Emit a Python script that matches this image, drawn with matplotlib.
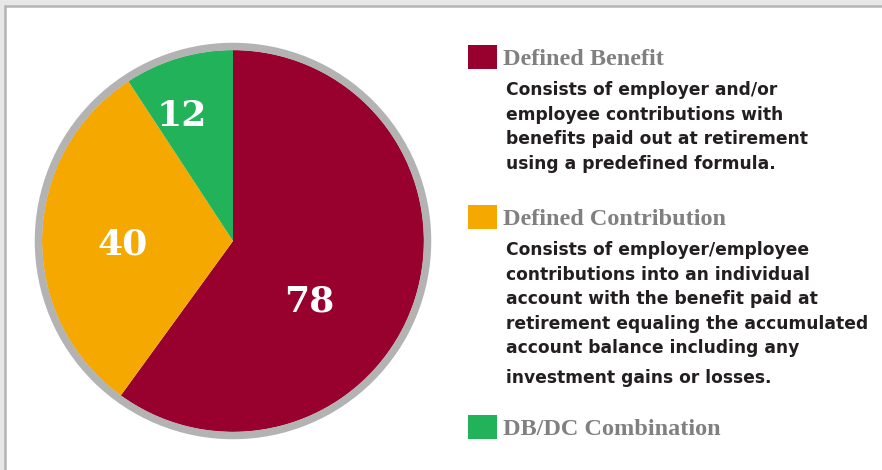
import numpy as np
import matplotlib.pyplot as plt
from matplotlib.patches import Rectangle, Circle

# plan counts
plans = ["Defined Benefit", "Defined Contribution", "DB/DC Combination"]
counts = [78, 40, 12]
colors = ["#98002e", "#f5a800", "#22b35a"]
descriptions = [
    ["Consists of employer and/or",
     "employee contributions with",
     "benefits paid out at retirement",
     "using a predefined formula."],
    ["Consists of employer/employee",
     "contributions into an individual",
     "account with the benefit paid at",
     "retirement equaling the accumulated",
     "account balance including any",
     "investment gains or losses."],
    [],
]

W, H = 882, 470
fig = plt.figure(figsize=(W / 100, H / 100), dpi=100)
fig.patch.set_facecolor("#e7e7e7")


def fx(px):
    return px / W


def fy(py):
    return 1 - py / H


# white panel with grey border (runs off the right and bottom edge)
bg = fig.add_axes([0, 0, 1, 1])
bg.set_xlim(0, W)
bg.set_ylim(H, 0)
bg.axis("off")
bg.add_patch(Rectangle((5, 6), W + 20, H + 20, facecolor="white",
                       edgecolor="#b4b4b4", linewidth=1.8))

# pie axes: centre (233, 241), radius 191 px
R = 191
cx, cy = 233, 241
span = 1.1
side = 2 * span * R
ax = fig.add_axes([fx(cx - side / 2), fy(cy + side / 2), side / W, side / H])
wedges, _ = ax.pie(counts, colors=colors, startangle=90, counterclock=False,
                   radius=1.0, wedgeprops=dict(linewidth=0))
ax.set_xlim(-span, span)
ax.set_ylim(-span, span)
ax.add_patch(Circle((0, 0), 1.0 + 3.5 / R, fill=False, edgecolor="#b3b3b3",
                    linewidth=7.5 * 0.72, zorder=5))

# value labels
label_r = [0.50, 0.58, 0.725]
label_shift = [-19, 1.5, 5]
for w, val, r, sh in zip(wedges, counts, label_r, label_shift):
    ang = np.deg2rad((w.theta1 + w.theta2) / 2 + sh)
    ax.text(r * np.cos(ang), r * np.sin(ang), str(val), color="white",
            fontsize=26, fontweight="bold", family="DejaVu Serif",
            ha="center", va="center_baseline", zorder=6)

# legend with descriptions
title_y = [65, 225, 435]
box_y = [45, 205, 415]
line_h = 24.6
for name, col, desc, ty, by in zip(plans, colors, descriptions, title_y, box_y):
    bg.add_patch(Rectangle((468, by), 29, 24, facecolor=col, edgecolor="none"))
    bg.text(503, ty, name, color="#808080", fontsize=17.5, fontweight="bold",
            family="Liberation Serif", va="baseline", ha="left")
    for i, line in enumerate(desc):
        extra = 5 if i == 5 else 0
        bg.text(506, ty + 30 + i * line_h + extra, line, color="#231f20",
                fontsize=12.3, fontweight="bold", family="DejaVu Sans",
                va="baseline", ha="left")

fig.savefig("out.png", dpi=100, facecolor=fig.get_facecolor())
